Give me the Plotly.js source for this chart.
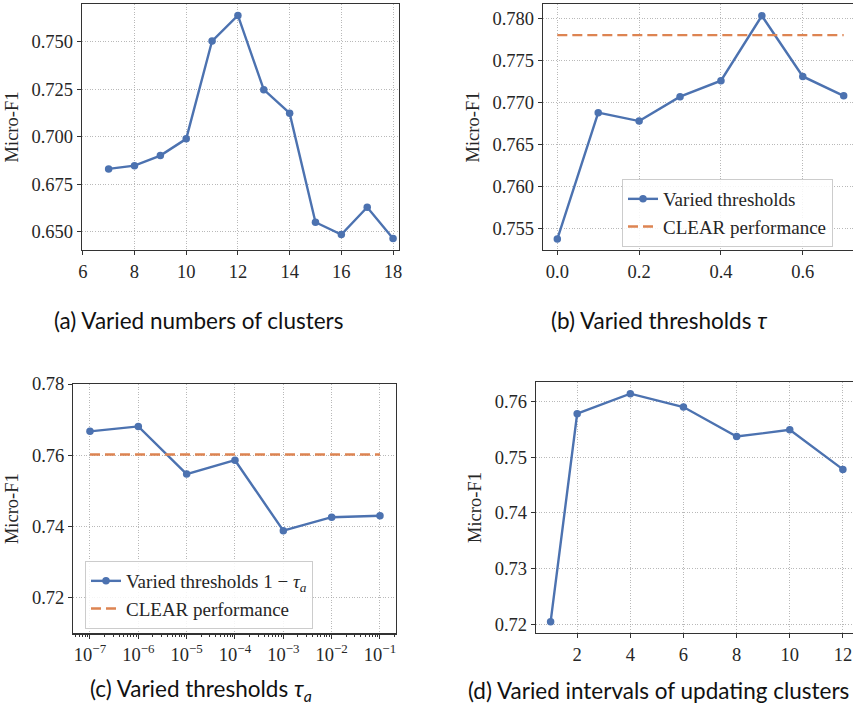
<!DOCTYPE html>
<html><head><meta charset="utf-8">
<script src="https://cdn.plot.ly/plotly-3.0.1.min.js"></script>
<style>html,body{margin:0;padding:0;overflow:hidden;background:#fff;width:853px;height:719px}</style>
</head><body><div id="chart"></div>
<script>
// (a) varied numbers of clusters
const clustersX = [7, 8, 9, 10, 11, 12, 13, 14, 15, 16, 17, 18];
const clustersF1 = [0.6832, 0.6849, 0.6902, 0.6990, 0.7505, 0.7640, 0.7249, 0.7125, 0.6551, 0.6486, 0.6630, 0.6465];
// (b) varied thresholds tau
const tauX = [0.0, 0.1, 0.2, 0.3, 0.4, 0.5, 0.6, 0.7];
const tauF1 = [0.7538, 0.7688, 0.7678, 0.7707, 0.7726, 0.7803, 0.7731, 0.7708];
const clearB = 0.7780;
// (c) varied thresholds 1 - tau_a
const tauAX = [1e-7, 1e-6, 1e-5, 1e-4, 1e-3, 1e-2, 1e-1];
const tauAF1 = [0.7667, 0.7681, 0.7547, 0.7586, 0.7388, 0.7426, 0.7430];
const clearC = 0.7602;
const tauATickText = ["10<sup>−7</sup>","10<sup>−6</sup>","10<sup>−5</sup>","10<sup>−4</sup>","10<sup>−3</sup>","10<sup>−2</sup>","10<sup>−1</sup>"];
// (d) varied intervals of updating clusters
const intervalX = [1, 2, 4, 6, 8, 10, 12];
const intervalF1 = [0.7204, 0.7578, 0.7614, 0.7590, 0.7537, 0.7549, 0.7478];
const captions = ["(a) Varied numbers of clusters", "(b) Varied thresholds <i>τ</i>",
  "(c) Varied thresholds <i>τ<sub>a</sub></i>", "(d) Varied intervals of updating clusters"];

const W = 860, H = 719;
const blue = '#4c72b0', orange = '#dd8452';
const px = (a, b) => [a / W, b / W];
const py = (top, bot) => [1 - bot / H, 1 - top / H];

const tickFont = {family: '"Liberation Serif", serif', size: 18.5, color: '#262626'};
function ax(extra) {
  return Object.assign({
    showline: true, mirror: true, linecolor: '#333', linewidth: 1.3,
    ticks: 'outside', ticklen: 4, tickwidth: 1, tickcolor: '#333',
    showgrid: true, gridcolor: '#a8a8a8', gridwidth: 0.8, griddash: '1px,1.6px',
    zeroline: false, tickfont: tickFont
  }, extra);
}
const yTitle = {text: 'Micro-F1', font: {family: '"Liberation Serif", serif', size: 18.5, color: '#262626'}, standoff: 8};

const lineStyle = {color: blue, width: 2.4};
const mk = {color: blue, size: 7.5};
const dash = {color: orange, width: 2.4, dash: '10px,5px'};

const traces = [
  {x: clustersX, y: clustersF1, xaxis: 'x', yaxis: 'y', mode: 'lines+markers', line: lineStyle, marker: mk, showlegend: false},
  {x: tauX, y: tauF1, xaxis: 'x2', yaxis: 'y2', mode: 'lines+markers', line: lineStyle, marker: mk, name: 'Varied thresholds', legend: 'legend'},
  {x: [tauX[0], tauX[tauX.length - 1]], y: [clearB, clearB], xaxis: 'x2', yaxis: 'y2', mode: 'lines', line: dash, name: 'CLEAR performance', legend: 'legend'},
  {x: tauAX, y: tauAF1, xaxis: 'x3', yaxis: 'y3', mode: 'lines+markers', line: lineStyle, marker: mk, name: 'Varied thresholds 1 − <i>τ<sub>a</sub></i>', legend: 'legend2'},
  {x: [tauAX[0], tauAX[tauAX.length - 1]], y: [clearC, clearC], xaxis: 'x3', yaxis: 'y3', mode: 'lines', line: dash, name: 'CLEAR performance', legend: 'legend2'},
  {x: intervalX, y: intervalF1, xaxis: 'x4', yaxis: 'y4', mode: 'lines+markers', line: lineStyle, marker: mk, showlegend: false}
];

const legFont = {family: '"Liberation Serif", serif', size: 19, color: '#262626'};
const legBase = {bgcolor: 'rgba(255,255,255,0.85)', bordercolor: '#cccccc', borderwidth: 1, font: legFont,
  xanchor: 'left', yanchor: 'top', tracegroupgap: 0, itemwidth: 30};

const capFont = {family: 'Lato, sans-serif', size: 22.5, color: '#111', weight: 400};
const annotations = [
  {text: captions[0], x: 52 / W, y: 1 - 320 / H},
  {text: captions[1], x: 549 / W, y: 1 - 320 / H},
  {text: captions[2], x: 88 / W, y: 1 - 690 / H},
  {text: captions[3], x: 466 / W, y: 1 - 690 / H}
].map(a => Object.assign({xref: 'paper', yref: 'paper', xanchor: 'left', yanchor: 'middle', showarrow: false, font: capFont}, a));

const layout = {
  width: W, height: H, margin: {l: 0, r: 0, t: 0, b: 0},
  paper_bgcolor: '#fff', plot_bgcolor: '#fff', showlegend: true,
  xaxis: ax({domain: px(82, 399), range: [5.97, 18.23], dtick: 2, tick0: 6, anchor: 'y'}),
  yaxis: ax({domain: py(4, 250), range: [0.6405, 0.770], dtick: 0.025, tick0: 0.65, tickformat: '.3f', anchor: 'x', title: yTitle}),
  xaxis2: ax({domain: px(543, 858), range: [-0.035, 0.735], dtick: 0.2, tick0: 0, tickformat: '.1f', anchor: 'y2'}),
  yaxis2: ax({domain: py(4, 250), range: [0.7525, 0.7817], dtick: 0.005, tick0: 0.755, tickformat: '.3f', anchor: 'x2', title: yTitle}),
  xaxis3: ax({domain: px(73.3, 395.7), type: 'log', range: [-7.345, -0.675], tickvals: tauAX, ticktext: tauATickText, anchor: 'y3',
    minor: {ticks: 'outside', ticklen: 2.5, tickcolor: '#333', showgrid: false, dtick: 'D1'}}),
  yaxis3: ax({domain: py(384, 633.3), range: [0.71, 0.78], dtick: 0.02, tick0: 0.72, tickformat: '.2f', anchor: 'x3', title: yTitle}),
  xaxis4: ax({domain: px(536, 857.5), range: [0.45, 12.55], tickvals: [2, 4, 6, 8, 10, 12], anchor: 'y4'}),
  yaxis4: ax({domain: py(382, 633), range: [0.7184, 0.7635], dtick: 0.01, tick0: 0.72, tickformat: '.2f', anchor: 'x4', title: yTitle}),
  legend: Object.assign({}, legBase, {x: 622 / W, y: 1 - 179 / H}),
  legend2: Object.assign({}, legBase, {x: 85 / W, y: 1 - 561 / H}),
  annotations: annotations
};

Plotly.newPlot('chart', traces, layout, {displayModeBar: false, staticPlot: true});
</script></body></html>
